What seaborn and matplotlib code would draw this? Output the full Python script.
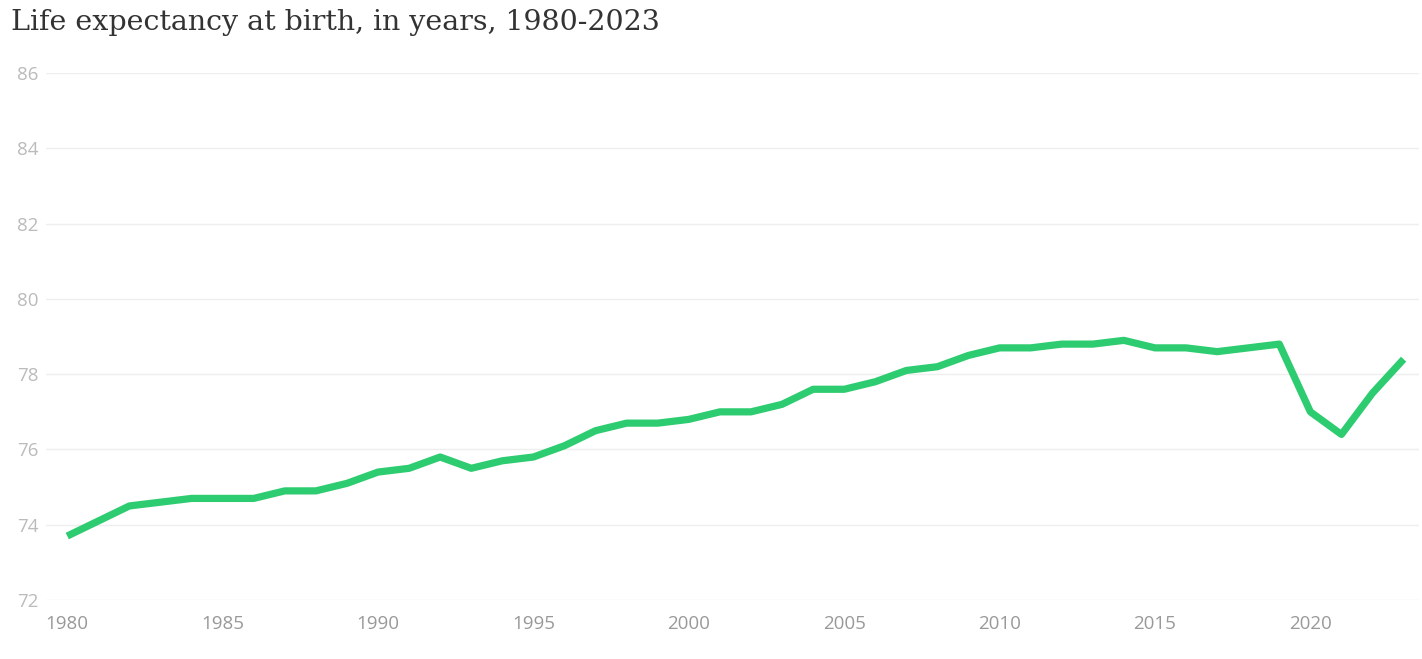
import pandas as pd
import seaborn as sns
import matplotlib.pyplot as plt

years = list(range(1980, 2024))
life_expectancy = [
    73.7, 74.1, 74.5, 74.6, 74.7, 74.7, 74.7, 74.9, 74.9, 75.1,
    75.4, 75.5, 75.8, 75.5, 75.7, 75.8, 76.1, 76.5, 76.7, 76.7,
    76.8, 77.0, 77.0, 77.2, 77.6, 77.6, 77.8, 78.1, 78.2, 78.5,
    78.7, 78.7, 78.8, 78.8, 78.9, 78.7, 78.7, 78.6, 78.7, 78.8,
    77.0, 76.4, 77.5, 78.4,
]
y_ticks = [72, 74, 76, 78, 80, 82, 84, 86]
x_ticks = [1980, 1985, 1990, 1995, 2000, 2005, 2010, 2015, 2020]

df = pd.DataFrame({'Year': years, 'Life expectancy': life_expectancy})

sns.set_style('white')
plt.rcParams['font.family'] = ['Open Sans', 'DejaVu Sans']

fig = plt.figure(figsize=(14.22, 6.59), dpi=100)
ax = fig.add_axes([0.032, 0.0895, 0.966, 0.7995])

sns.lineplot(data=df, x='Year', y='Life expectancy', color='#2ecc71', linewidth=5.2,
             ax=ax, solid_capstyle='butt')

ax.set_ylim(72, 86)
ax.set_xlim(1979.3, 2023.5)
ax.set_yticks(y_ticks)
ax.set_xticks(x_ticks)
ax.grid(axis='y', color='#eeeeee', linewidth=1)
ax.grid(axis='x', visible=False)
for s in ax.spines.values():
    s.set_visible(False)
ax.tick_params(axis='both', length=0, labelsize=13.5, colors='#999999')
ax.tick_params(axis='y', pad=5, labelcolor='#bbbbbb')
ax.tick_params(axis='x', pad=11)
ax.set_xlabel('')
ax.set_ylabel('')

fig.text(0.008, 0.966, 'Life expectancy at birth, in years, 1980-2023',
         family='DejaVu Serif', fontsize=20.5, color='#333333', va='center', ha='left')

fig.savefig('out.png', dpi=100)
